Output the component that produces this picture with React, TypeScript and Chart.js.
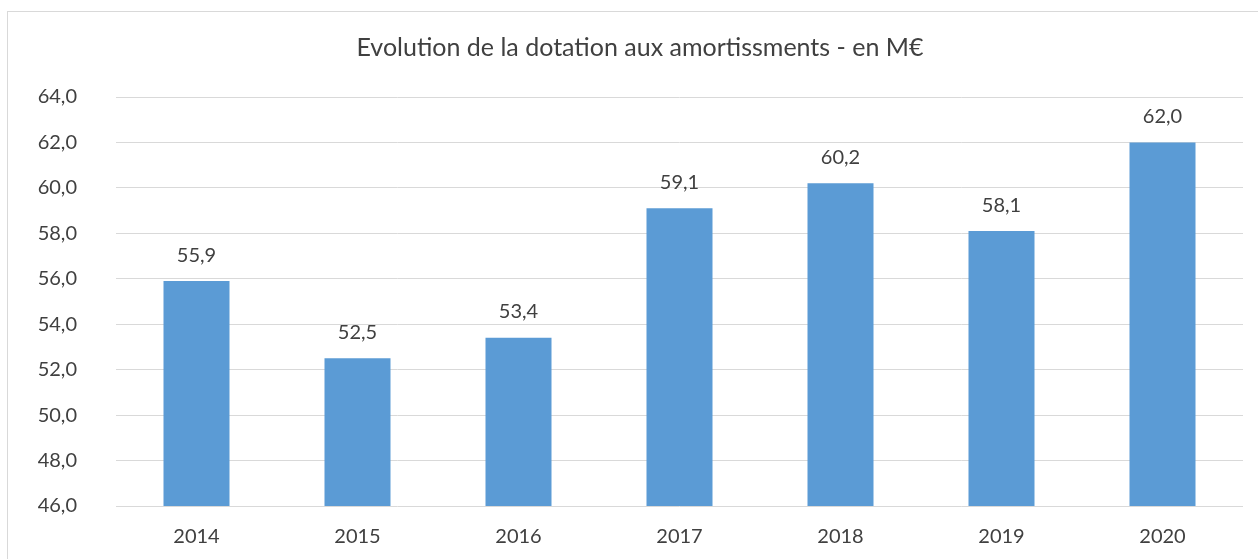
import React, { useEffect, useRef } from "react";
import { Chart, registerables } from "chart.js";

Chart.register(...registerables);

const categories = ["2014", "2015", "2016", "2017", "2018", "2019", "2020"];
const values = [55.9, 52.5, 53.4, 59.1, 60.2, 58.1, 62.0];
const titleText = "Evolution de la dotation aux amortissments - en M€";
const yMin = 46;
const yMax = 64;
const yStep = 2;

const FONT = "Lato, 'Open Sans', sans-serif";
const TEXT = "#404040";

const fmt = (v: number) => v.toFixed(1).replace(".", ",");

const dataLabels = {
  id: "dataLabels",
  afterDatasetsDraw(chart: any) {
    const ctx = chart.ctx;
    const meta = chart.getDatasetMeta(0);
    ctx.save();
    ctx.font = `20px ${FONT}`;
    ctx.fillStyle = TEXT;
    ctx.textAlign = "center";
    ctx.textBaseline = "middle";
    meta.data.forEach((bar: any, i: number) => {
      ctx.fillText(fmt(values[i]), bar.x, bar.y - 26);
    });
    ctx.restore();
  },
};

export default function App() {
  const ref = useRef<HTMLCanvasElement | null>(null);
  useEffect(() => {
    document.body.style.margin = "0";
    document.body.style.overflow = "hidden";
    const chart = new Chart(ref.current!, {
      type: "bar",
      data: {
        labels: categories,
        datasets: [
          {
            data: values,
            backgroundColor: "#5B9BD5",
            categoryPercentage: 1,
            barPercentage: 0.41,
          },
        ],
      },
      options: {
        responsive: false,
        animation: false,
        layout: { padding: { top: 0, left: 37, right: 15, bottom: 0 } },
        plugins: {
          legend: { display: false },
          tooltip: { enabled: false },
          title: {
            display: true,
            text: titleText,
            color: TEXT,
            font: { family: FONT, size: 25, weight: "normal", lineHeight: 1.2 },
            padding: { top: 33, bottom: 34 },
          },
        },
        scales: {
          x: {
            grid: { display: false, drawTicks: false },
            border: { display: false },
            ticks: { color: TEXT, font: { family: FONT, size: 20 }, padding: 19 },
            afterFit(scale: any) {
              scale.height = 53;
            },
          },
          y: {
            min: yMin,
            max: yMax,
            grid: { color: "#d9d9d9", drawTicks: false, lineWidth: 1 },
            border: { display: false },
            ticks: {
              stepSize: yStep,
              color: TEXT,
              font: { family: FONT, size: 20 },
              padding: 39,
              callback: (v: any) => fmt(Number(v)),
            },
            afterFit(scale: any) {
              scale.width = 79;
            },
          },
        },
      },
      plugins: [dataLabels],
    });
    return () => chart.destroy();
  }, []);
  return (
    <div style={{ position: "fixed", left: 0, top: 0, width: 1258, height: 559, background: "#fff" }}>
      <div
        style={{
          position: "absolute",
          left: 7,
          top: 11,
          width: 1300,
          height: 600,
          borderTop: "1px solid #d9d9d9",
          borderLeft: "1px solid #d9d9d9",
        }}
      />
      <canvas ref={ref} width={1258} height={559} style={{ position: "absolute", left: 0, top: 0 }} />
    </div>
  );
}
